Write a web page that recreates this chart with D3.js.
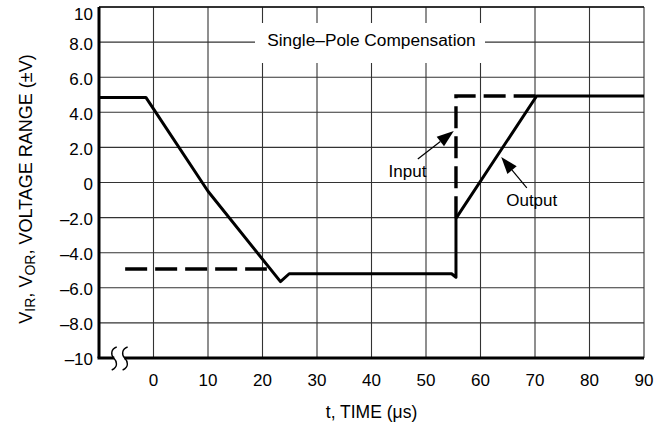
<!DOCTYPE html>
<html>
<head>
<meta charset="utf-8">
<script src="https://cdn.jsdelivr.net/npm/d3@7"></script>
<style>
  body { margin: 0; background: #fff; }
  svg { font-family: "Liberation Sans", Arial, sans-serif; }
</style>
</head>
<body>
<div id="chart"></div>
<script>
// values
var timeTicks = [0, 10, 20, 30, 40, 50, 60, 70, 80, 90];
var voltTicks = [-10, -8, -6, -4, -2, 0, 2, 4, 6, 8, 10];

// Output waveform (solid)
var outT = [-10, -1.4, 10, 23.3, 24.9, 54.7, 55.5, 55.5, 70.3, 90];
var outV = [4.85, 4.85, -0.5, -5.65, -5.2, -5.2, -5.4, -2.04, 4.93, 4.93];

// Input waveform (dashed), null breaks the path where it hides under the output
var inT = [-5.2, 20.8, null, 55.5, 55.5, 70.3];
var inV = [-4.93, -4.93, null, -2.04, 4.93, 4.93];

var W = 657, H = 427;
var margin = {top: 7, right: 13, bottom: 69, left: 99},
    width = W - margin.left - margin.right,
    height = H - margin.top - margin.bottom;

var svg = d3.select("#chart")
  .append("svg")
    .attr("width", W)
    .attr("height", H);

var g = svg.append("g")
    .attr("transform", "translate(" + margin.left + "," + margin.top + ")");

var x = d3.scaleLinear().domain([-10, 90]).range([0, width]);
var y = d3.scaleLinear().domain([-10, 10]).range([height, 0]);

// grid
g.selectAll(".vgrid").data(timeTicks)
  .enter().append("line")
    .attr("x1", d => x(d)).attr("x2", d => x(d))
    .attr("y1", 0).attr("y2", height)
    .attr("stroke", "#333").attr("stroke-width", 1.1);

g.selectAll(".hgrid").data(voltTicks)
  .enter().append("line")
    .attr("x1", 0).attr("x2", width)
    .attr("y1", d => y(d)).attr("y2", d => y(d))
    .attr("stroke", "#333").attr("stroke-width", 1.1);

// top frame
g.append("line").attr("x1", 0).attr("x2", width).attr("y1", 0).attr("y2", 0)
  .attr("stroke", "#111").attr("stroke-width", 1.6);

// title box
var title = g.append("g");
title.append("rect")
    .attr("x", 255 - margin.left).attr("y", 23 - margin.top)
    .attr("width", 230).attr("height", 40)
    .attr("fill", "#fff");
title.append("text")
    .attr("x", x(40))
    .attr("y", 46 - margin.top)
    .attr("text-anchor", "middle")
    .attr("font-size", 17.3)
    .text("Single\u2013Pole Compensation");

// lines
var line = d3.line()
    .defined(d => d[0] !== null)
    .x(d => x(d[0]))
    .y(d => y(d[1]));

g.append("path")
    .datum(outT.map((t, i) => [t, outV[i]]))
    .attr("fill", "none")
    .attr("stroke", "#000")
    .attr("stroke-width", 3)
    .attr("stroke-linejoin", "round")
    .attr("d", line);

g.append("path")
    .datum(inT.map((t, i) => [t, inV[i]]))
    .attr("fill", "none")
    .attr("stroke", "#000")
    .attr("stroke-width", 3.4)
    .attr("stroke-dasharray", "22,8")
    .attr("d", line);

// annotations
function arrow(t0, v0, t1, v1) {
  var x0 = x(t0), y0 = y(v0), x1 = x(t1), y1 = y(v1);
  var a = Math.atan2(y1 - y0, x1 - x0), L = 17, w = 6;
  var bx = x1 - L * Math.cos(a), by = y1 - L * Math.sin(a);
  g.append("line")
    .attr("x1", x0).attr("y1", y0).attr("x2", bx).attr("y2", by)
    .attr("stroke", "#000").attr("stroke-width", 1.2);
  g.append("path")
    .attr("d", "M" + x1 + "," + y1 +
      "L" + (bx + w * Math.sin(a)) + "," + (by - w * Math.cos(a)) +
      "L" + (bx - w * Math.sin(a)) + "," + (by + w * Math.cos(a)) + "Z")
    .attr("fill", "#000");
}
arrow(48.5, 1.34, 55.1, 2.93);
arrow(68.5, -0.31, 63.8, 1.45);

g.append("text").attr("x", x(46.6)).attr("y", y(0.31))
  .attr("text-anchor", "middle").attr("font-size", 17).text("Input");
g.append("text").attr("x", x(69.4)).attr("y", y(-1.34))
  .attr("text-anchor", "middle").attr("font-size", 17).text("Output");

// axes (thick left and bottom)
g.append("line").attr("x1", 0).attr("x2", 0).attr("y1", 0).attr("y2", height)
  .attr("stroke", "#000").attr("stroke-width", 3);
g.append("line").attr("x1", -1.5).attr("x2", width).attr("y1", height).attr("y2", height)
  .attr("stroke", "#000").attr("stroke-width", 3);

// axis break marks
var brk = g.append("g");
brk.append("rect").attr("x", x(-7.2)).attr("y", height - 3)
  .attr("width", 10).attr("height", 6).attr("fill", "#fff");
[-7.3, -5.3].forEach(function(t) {
  var bx = x(t);
  brk.append("path")
    .attr("d", "M" + (bx + 3) + "," + (height - 11) +
      " C" + (bx - 3) + "," + (height - 9) + " " + (bx - 3) + "," + (height - 3) + " " + bx + "," + height +
      " C" + (bx + 3) + "," + (height + 3) + " " + (bx + 5) + "," + (height + 9) + " " + (bx - 2) + "," + (height + 12))
    .attr("fill", "none").attr("stroke", "#000").attr("stroke-width", 1.4);
});

// tick labels
function vLabel(d) {
  if (d === 0) return "0";
  var s = Math.abs(d) === 10 ? "10" : Math.abs(d).toFixed(1);
  return (d < 0 ? "\u2013" : "") + s;
}
g.selectAll(".ylab").data(voltTicks)
  .enter().append("text")
    .attr("x", -6)
    .attr("y", d => y(d) + (d === 10 ? 7.5 : 1.5))
    .attr("dy", "0.35em")
    .attr("text-anchor", "end")
    .attr("font-size", 17)
    .text(vLabel);

g.selectAll(".xlab").data(timeTicks)
  .enter().append("text")
    .attr("x", d => x(d))
    .attr("y", 386 - margin.top)
    .attr("text-anchor", "middle")
    .attr("font-size", 17)
    .text(d => d);

// axis titles
g.append("text")
    .attr("x", x(40))
    .attr("y", 418 - margin.top)
    .attr("text-anchor", "middle")
    .attr("font-size", 17.5)
    .text("t, TIME (\u03bcs)");

var yt = svg.append("text")
    .attr("transform", "translate(32,189) rotate(-90)")
    .attr("text-anchor", "middle")
    .attr("font-size", 18);
yt.append("tspan").text("V");
yt.append("tspan").attr("font-size", 14).attr("dy", 3).text("IR");
yt.append("tspan").attr("dy", -3).text(", V");
yt.append("tspan").attr("font-size", 14).attr("dy", 3).text("OR");
yt.append("tspan").attr("dy", -3).text(",  VOLTAGE RANGE (\u00b1V)");
</script>
</body>
</html>
